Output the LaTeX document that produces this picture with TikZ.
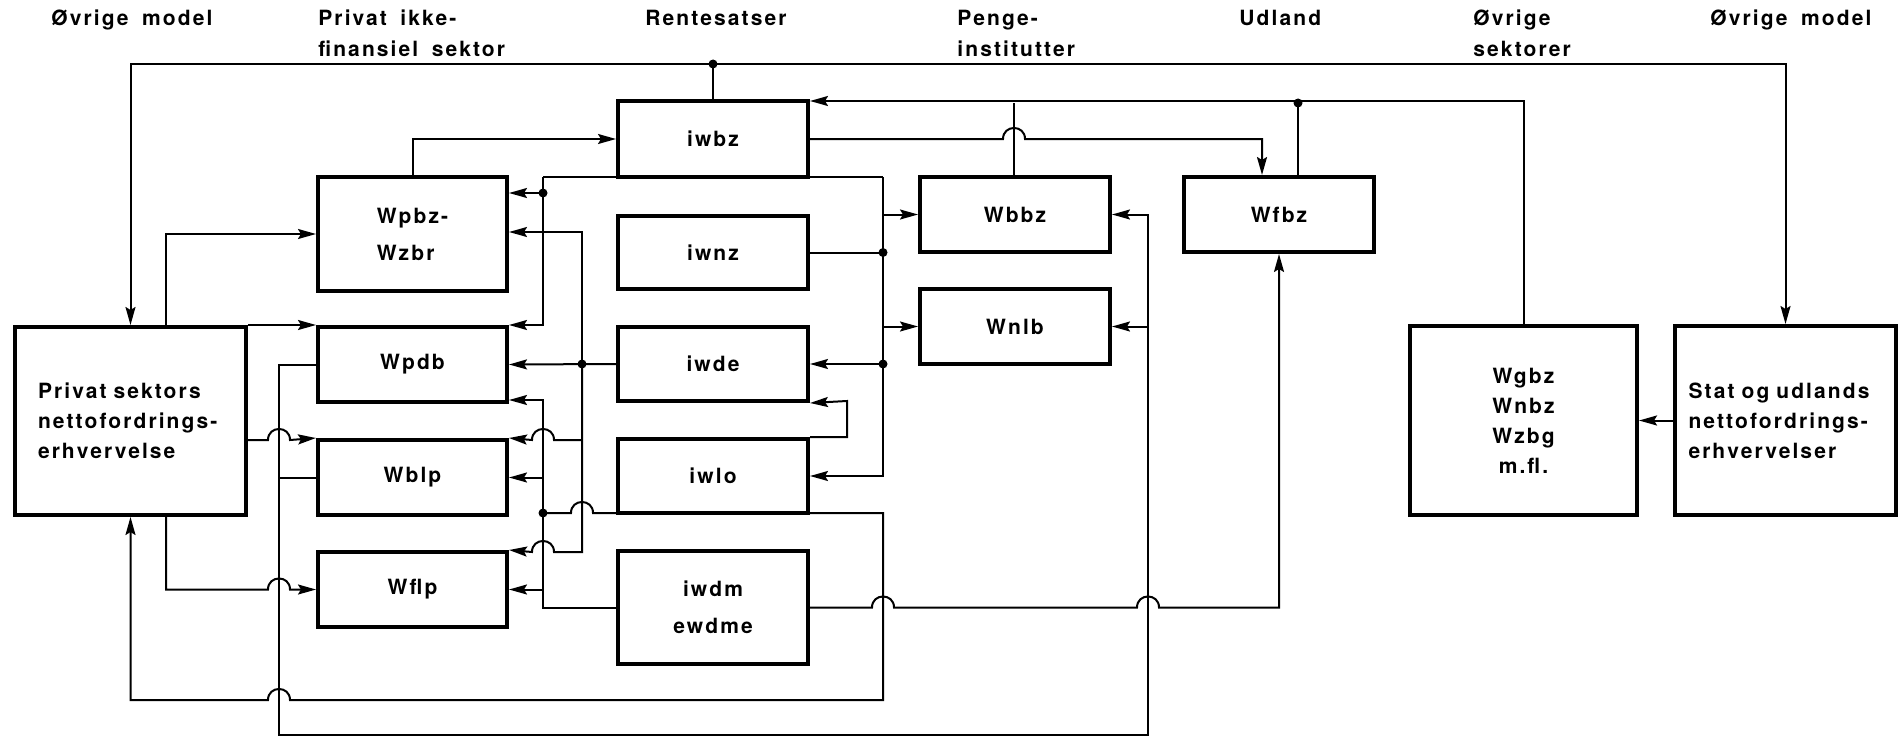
\documentclass[tikz,border=0pt]{standalone}
\usepackage{fontspec}
\setmainfont{TeX Gyre Heros}[LetterSpace=10,WordSpace=1.7]
\usetikzlibrary{arrows.meta}
\newcommand\fsz{\fontsize{10.5}{15}\selectfont\bfseries}
\newcommand\fszw{\fontsize{10.5}{18.5}\selectfont\bfseries}
\newcommand\jmpR[2]{-- ({#1-11},{#2}) .. controls ({#1-11},{#2-14.7}) and ({#1+11},{#2-14.7}) .. ({#1+11},{#2})}
\newcommand\jmpL[2]{-- ({#1+11},{#2}) .. controls ({#1+11},{#2-14.7}) and ({#1-11},{#2-14.7}) .. ({#1-11},{#2})}
\begin{document}
\begin{tikzpicture}[x=0.5pt,y=-0.5pt,
 box/.style={draw,line width=2pt,inner sep=0pt,font=\fsz},
 sbox/.style={box,minimum width=94.5pt,minimum height=37.5pt},
 ln/.style={line width=1pt},
 arr/.style={line width=1pt,-{Stealth[length=9pt,width=5pt,inset=1.5pt]}},
 jdot/.style={circle,fill,inner sep=0pt,minimum size=4.5pt},
 hd/.style={anchor=base west,inner sep=0pt,font=\fsz}]
\useasboundingbox (0,0) rectangle (1899,738);

% headers
\node[hd] (h1) at (51,26) {Øvrige model};
\node[hd] (h2a) at (318,26) {Privat ikke-};
\node[hd] (h2b) at (318,57) {finansiel sektor};
\node[hd] (h3) at (645,26) {Rentesatser};
\node[hd] (h4a) at (957,26) {Penge-};
\node[hd] (h4b) at (957,57) {institutter};
\node[hd] (h5) at (1239,26) {Udland};
\node[hd] (h6a) at (1473,26) {Øvrige};
\node[hd] (h6b) at (1473,57) {sektorer};
\node[hd] (h7) at (1710,26) {Øvrige model};

% boxes
\node[box,minimum width=115.5pt,minimum height=94pt,text width=92.5pt,align=left] (P) at (130.5,421) {Privat sektors\\nettofordrings-\\erhvervelse};
\node[box,minimum width=94.5pt,minimum height=57pt,align=left,font=\fszw] (Wpbz) at (412.5,234) {Wpbz-\\Wzbr};
\node[sbox] (Wpdb) at (412.5,364.5) {Wpdb};
\node[sbox] (Wblp) at (412.5,477.5) {Wblp};
\node[sbox] (Wflp) at (412.5,589.5) {Wflp};
\node[sbox,minimum width=95pt,minimum height=38pt] (iwbz) at (713,139) {iwbz};
\node[sbox,minimum width=95pt,minimum height=36.5pt] (iwnz) at (713,252.5) {iwnz};
\node[sbox,minimum width=95pt,minimum height=37pt] (iwde) at (713,364) {iwde};
\node[sbox,minimum width=95pt,minimum height=37pt] (iwlo) at (713,476) {iwlo};
\node[box,minimum width=95pt,minimum height=56.5pt,align=center,font=\fszw] (iwdm) at (713,607.5) {iwdm\\ewdme};
\node[sbox,minimum width=95pt] (Wbbz) at (1015,214.5) {Wbbz};
\node[sbox,minimum width=95pt] (Wnlb) at (1015,326.5) {Wnlb};
\node[sbox,minimum width=95pt] (Wfbz) at (1279,214.5) {Wfbz};
\node[box,minimum width=113.5pt,minimum height=94.5pt,align=center] (Wgbz) at (1523.5,420.5) {Wgbz\\Wnbz\\Wzbg\\m.fl.};
\node[box,minimum width=110.5pt,minimum height=94.5pt,text width=97pt,align=left] (Stat) at (1785.5,420.5) {Stat og udlands\\nettofordrings-\\erhvervelser};

% junction coordinates
\coordinate (tA) at (iwbz.north |- 0,64);
\coordinate (tB) at (1298,103);
\coordinate (bL) at (543,177);
\coordinate (bR) at (883,177);

% top line A: iwbz -> Oevrige model (both sides)
\draw[ln] (iwbz.north) -- (tA);
\draw[arr] (tA) -| (P.north);
\draw[arr] (tA) -| (Stat.north);
\node[jdot] at (tA) {};

% line B: Wgbz -> iwbz, with Wfbz and Wbbz
\draw[arr] (Wgbz.north) |- ([yshift=-1pt]iwbz.north east);
\draw[ln] (Wfbz.north -| tB) -- (tB);
\node[jdot] at (tB) {};
\draw[ln] (Wbbz.north -| 1014,0) -- (1014,103);

% iwbz -> Wfbz
\draw[arr] (iwbz.east) \jmpR{1014}{139} -| (Wfbz.north -| 1262,0);

% Wpbz -> iwbz
\draw[arr] (Wpbz.north) |- (iwbz.west);

% iwbz bottom bus
\draw[ln] (bL) -- (bR);
\draw[arr] (bL) |- (Wpdb.north east);
\draw[arr] (543,193) -- (Wpbz.east |- 0,193);
\node[jdot] at (543,193) {};
\draw[arr] (bR) |- (iwlo.east);
\draw[ln] (iwnz.east) -- (bR |- iwnz.east);
\node[jdot] at (bR |- iwnz.east) {};
\draw[arr] (bR |- iwde.east) -- (iwde.east);
\node[jdot] at (bR |- iwde.east) {};
\draw[arr] (bR |- Wbbz.west) -- (Wbbz.west);
\draw[arr] (bR |- Wnlb.west) -- (Wnlb.west);

% iwde -> Wpdb and bus x=582
\draw[arr] (iwde.west) -- (Wpdb.east);
\draw[arr] (582,364) -- (582,232) -- (Wpbz.east |- 0,232);
\draw[arr] (582,364) -- (582,552) \jmpL{543}{552} -- (Wflp.north east);
\draw[arr] (582,440) \jmpL{543}{440} -- (Wblp.north east);
\node[jdot] at (582,364) {};

% iwdm -> bus x=543
\draw[arr] (iwdm.west) -| (543,400) -- (Wpdb.east |- 0,400);
\draw[arr] (543,477.5) -- (Wblp.east);
\draw[arr] (543,589.5) -- (Wflp.east);
\node[jdot] at (543,513) {};

% iwlo bottom -> bus and -> Privat sektor
\draw[arr] (543,513) \jmpR{582}{513} -- (883,513) -- (883,700) \jmpL{279}{700} -| (P.south);

% iwlo top -> iwde
\draw[arr] (iwlo.north east) -| (847,401) -- (iwde.south east);

% iwdm -> Wfbz
\draw[arr] (iwdm.east) \jmpR{883}{607.5} \jmpR{1148}{607.5} -| (Wfbz.south);

% Wpdb, Wblp -> Wbbz, Wnlb
\draw[arr] (Wpdb.west) -| (279,735) -| (1148,214.5) -- (Wbbz.east);
\draw[ln] (Wblp.west) -- (279,477.5);
\draw[arr] (1148,326.5) -- (Wnlb.east);

% Privat sektor outputs
\draw[arr] (P.north -| 166,0) |- (Wpbz.west);
\draw[arr] (P.north east) -- (Wpdb.north west);
\draw[arr] (P.east |- 0,440) \jmpR{279}{440} -- (Wblp.north west);
\draw[arr] (P.south -| 166,0) -- (166,589.5) \jmpR{279}{589.5} -- (Wflp.west);

% Stat -> Wgbz
\draw[arr] (Stat.west) -- (Wgbz.east);
\end{tikzpicture}
\end{document}
